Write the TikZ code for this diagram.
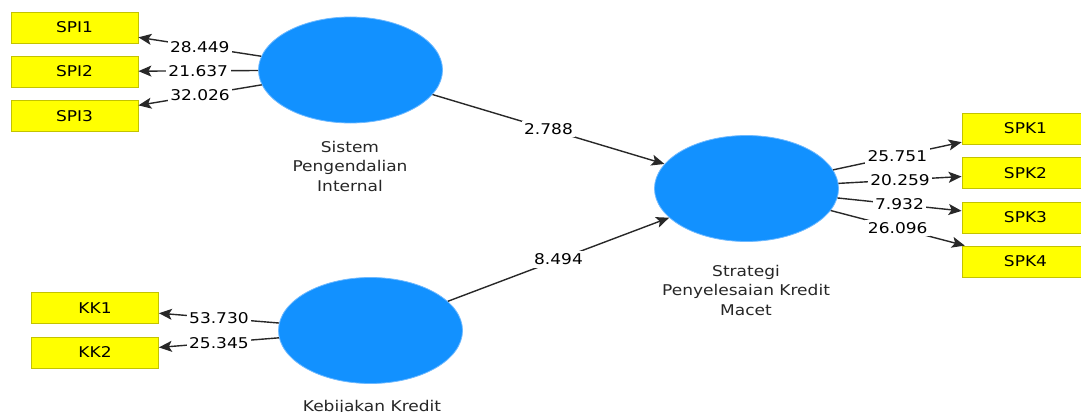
\documentclass[tikz,border=0pt]{standalone}
\usepackage{fontspec}
\setmainfont{DejaVu Sans}[FakeStretch=1.15]
\usetikzlibrary{shapes.geometric,arrows.meta}
\definecolor{lvblue}{RGB}{18,145,255}
\definecolor{lvedge}{RGB}{110,185,255}
\definecolor{ind}{RGB}{255,255,0}
\definecolor{indedge}{RGB}{195,195,0}
\definecolor{linec}{RGB}{40,40,40}
\tikzset{
  latent/.style={ellipse, fill=lvblue, draw=lvedge, line width=0.8pt, minimum width=184pt, minimum height=106pt, inner sep=0pt},
  indbox/.style={rectangle, fill=ind, draw=indedge, line width=0.8pt, minimum width=127pt, minimum height=31pt, inner sep=0pt, font=\fontsize{14.8}{17}\selectfont},
  arr/.style={draw=linec, line width=1.4pt, -{Stealth[length=13pt,width=11pt,inset=3pt]}},
  lbl/.style={fill=white, inner sep=2.5pt, midway, font=\fontsize{14.8}{17}\selectfont, text=black},
  lvcaption/.style={align=center, font=\fontsize{14.8}{19.5}\selectfont, text=black!85}
}
\begin{document}
\begin{tikzpicture}[x=1pt,y=-1pt]
\useasboundingbox (0,0) rectangle (1081,412);
% latent variables
\node[latent] (spi) at (350.5,70) {};
\node[latent] (spk) at (746.5,188.5) {};
\node[latent] (kk) at (370.5,330.5) {};
% captions
\node[lvcaption] (capspi) at (350,166) {Sistem\\Pengendalian\\Internal};
\node[lvcaption] (capspk) at (746,290) {Strategi\\Penyelesaian Kredit\\Macet};
\node[lvcaption] (capkk) at (372,407) {Kebijakan Kredit};
% indicators
\node[indbox] (spi1) at (74.5,27.5) {SPI1};
\node[indbox] (spi2) at (74.5,71.5) {SPI2};
\node[indbox] (spi3) at (74.5,116) {SPI3};
\node[indbox] (spk1) at (1025.5,128.5) {SPK1};
\node[indbox] (spk2) at (1025.5,173) {SPK2};
\node[indbox] (spk3) at (1025.5,217.5) {SPK3};
\node[indbox] (spk4) at (1025.5,261.5) {SPK4};
\node[indbox] (kk1) at (95,308) {KK1};
\node[indbox] (kk2) at (95,352.5) {KK2};
% outer loadings
\draw[arr] (spi) -- node[lbl]{28.449} (spi1);
\draw[arr] (spi) -- node[lbl]{21.637} (spi2);
\draw[arr] (spi) -- node[lbl]{32.026} (spi3);
\draw[arr] (spk) -- node[lbl]{25.751} (spk1);
\draw[arr] (spk) -- node[lbl]{20.259} (spk2);
\draw[arr] (spk) -- node[lbl]{7.932} (spk3);
\draw[arr] (spk) -- node[lbl]{26.096} (spk4);
\draw[arr] (kk) -- node[lbl]{53.730} (kk1);
\draw[arr] (kk) -- node[lbl]{25.345} (kk2);
% path coefficients
\draw[arr] (spi) -- node[lbl]{2.788} (spk);
\draw[arr] (kk) -- node[lbl]{8.494} (spk);
\end{tikzpicture}
\end{document}
